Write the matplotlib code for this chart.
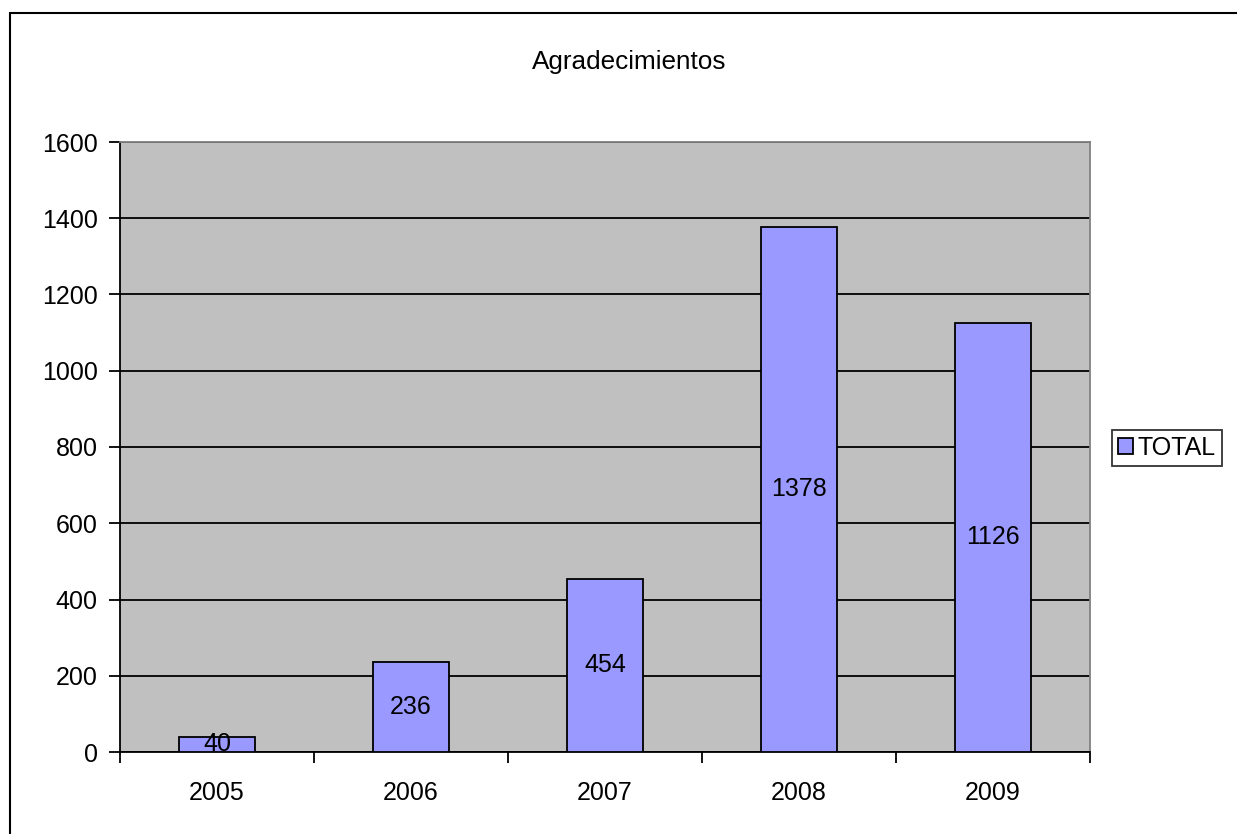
import matplotlib
matplotlib.use("Agg")
import matplotlib.pyplot as plt
from matplotlib.patches import Rectangle

# data
years = ["2005", "2006", "2007", "2008", "2009"]
totals = [40, 236, 454, 1378, 1126]
y_ticks = [0, 200, 400, 600, 800, 1000, 1200, 1400, 1600]

plt.rcParams["font.family"] = ["Liberation Sans", "DejaVu Sans"]

W, H = 1237, 834
fig = plt.figure(figsize=(W / 100, H / 100), dpi=100)
fig.patch.set_facecolor("white")

# outer chart frame (runs past the right and bottom edges)
fig.patches.append(Rectangle((10 / W, -0.1), 1.2, (H - 13) / H + 0.1,
                             transform=fig.transFigure, fill=False,
                             edgecolor="black", linewidth=1.5))

ax = fig.add_axes([120 / W, 82 / H, 970 / W, 610 / H])
ax.set_facecolor("#C0C0C0")

x = list(range(len(years)))
bars = ax.bar(x, totals, width=0.39, color="#9999FF", edgecolor="black",
              linewidth=1.3, label="TOTAL", zorder=3)

for xi, v in zip(x, totals):
    ax.text(xi, v / 2, str(v), ha="center", va="center", fontsize=18,
            color="black", zorder=4)

ax.set_ylim(0, 1600)
ax.set_yticks(y_ticks)
ax.yaxis.grid(True, color="black", linewidth=1.3, zorder=1)
ax.set_axisbelow(True)

ax.set_xlim(-0.5, len(years) - 0.5)
ax.set_xticks([i - 0.5 for i in range(len(years) + 1)])
ax.set_xticklabels([])
ax.set_xticks(x, minor=True)
ax.set_xticklabels(years, minor=True)
ax.tick_params(axis="x", which="major", length=8, width=1.3, direction="out")
ax.tick_params(axis="x", which="minor", length=0, pad=21, labelsize=18)
ax.tick_params(axis="y", length=8, width=1.3, direction="out", pad=8,
               labelsize=18)

for side in ["left", "bottom"]:
    ax.spines[side].set_color("black")
    ax.spines[side].set_linewidth(1.3)
for side in ["top", "right"]:
    ax.spines[side].set_color("#808080")
    ax.spines[side].set_linewidth(1.3)

fig.text(629 / W, 1 - 62 / H, "Agradecimientos", ha="center", va="center",
         fontsize=18.8)

leg = fig.legend(handles=[bars], labels=["TOTAL"], loc="center",
                 bbox_to_anchor=(1167 / W, 1 - 448 / H), fontsize=18,
                 frameon=True, fancybox=False, edgecolor="black",
                 handlelength=0.6, handleheight=0.6, handletextpad=0.2,
                 borderpad=0.25, borderaxespad=0)
leg.get_frame().set_linewidth(1.3)

fig.savefig("out.png", dpi=100)
